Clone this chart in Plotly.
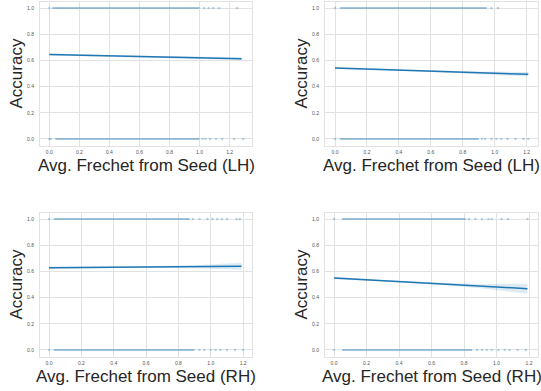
import plotly.graph_objects as go

# ---------------- data ----------------
panel_names = ["LH-1", "LH-2", "RH-1", "RH-2"]
x_titles = ["Avg. Frechet from Seed (LH)", "Avg. Frechet from Seed (LH)",
            "Avg. Frechet from Seed (RH)", "Avg. Frechet from Seed (RH)"]
y_title = "Accuracy"
x_ticks = [0.0, 0.2, 0.4, 0.6, 0.8, 1.0, 1.2]
y_ticks = [0.0, 0.2, 0.4, 0.6, 0.8, 1.0]

# dense strip of observations [start, end] for outcome 1 and outcome 0
dense_one = [[0.02, 1.00], [0.03, 0.95], [0.03, 0.87], [0.05, 0.81]]
dense_zero = [[0.04, 1.00], [0.03, 0.90], [0.03, 0.90], [0.05, 0.85]]

# sparse observations (x values) for outcome 1 and outcome 0
sparse_one = [
    [0.0, 1.03, 1.06, 1.09, 1.13, 1.25],
    [0.0, 0.98, 1.02],
    [0.0, 0.89, 0.93, 0.98, 1.01, 1.04, 1.07, 1.10, 1.16, 1.18],
    [0.0, 0.83, 0.87, 0.91, 0.95, 0.97, 1.03, 1.07, 1.19],
]
sparse_zero = [
    [0.0, 0.01, 1.02, 1.04, 1.07, 1.11, 1.15, 1.23, 1.29],
    [0.0, 0.92, 0.94, 0.98, 1.01, 1.04, 1.08, 1.13, 1.18, 1.21],
    [0.0, 0.93, 0.96, 1.00, 1.03, 1.06, 1.10, 1.15, 1.20],
    [0.0, 0.88, 0.91, 0.94, 0.97, 1.01, 1.05, 1.08, 1.13, 1.18],
]

# fitted curve and confidence band
fit_x = [
    [0.0, 0.3, 0.6, 0.9, 1.28],
    [0.0, 0.3, 0.6, 0.9, 1.21],
    [0.0, 0.3, 0.6, 0.9, 1.19],
    [0.0, 0.3, 0.6, 0.9, 1.19],
]
fit_y = [
    [0.645, 0.638, 0.630, 0.623, 0.613],
    [0.542, 0.530, 0.518, 0.506, 0.494],
    [0.628, 0.631, 0.633, 0.636, 0.639],
    [0.550, 0.529, 0.509, 0.488, 0.468],
]
fit_lo = [
    [0.638, 0.634, 0.625, 0.615, 0.604],
    [0.534, 0.525, 0.512, 0.496, 0.477],
    [0.620, 0.626, 0.627, 0.624, 0.612],
    [0.540, 0.523, 0.501, 0.472, 0.430],
]
fit_hi = [
    [0.652, 0.642, 0.635, 0.631, 0.622],
    [0.550, 0.535, 0.524, 0.516, 0.511],
    [0.636, 0.636, 0.639, 0.648, 0.666],
    [0.560, 0.535, 0.517, 0.504, 0.506],
]

x_ranges = [[-0.062, 1.349], [-0.0626, 1.271], [-0.0557, 1.255], [-0.0554, 1.255]]
y_range = [-0.05, 1.05]

# ---------------- layout geometry ----------------
W, H = 541, 391
x_domains = [[40 / W, 252 / W], [325 / W, 538 / W], [40 / W, 252 / W], [325 / W, 538 / W]]
y_domains = [[1 - 145.5 / H, 1 - 1.5 / H], [1 - 145.5 / H, 1 - 1.5 / H],
             [1 - 356.5 / H, 1 - 212.5 / H], [1 - 356.5 / H, 1 - 212.5 / H]]

C0 = "#1f77b4"
GRID = "#e2e2e2"
TXT = "#262626"
FONT = "Liberation Sans, Arial, sans-serif"

fig = go.Figure()
layout = dict(
    width=W, height=H, margin=dict(l=0, r=0, t=0, b=0),
    paper_bgcolor="white", plot_bgcolor="white", showlegend=False,
    font=dict(family=FONT, color=TXT),
)
annotations = []

for i in range(4):
    n = "" if i == 0 else str(i + 1)
    xa, ya = "x" + n, "y" + n
    # dense strips
    for (rng, yv) in ((dense_one[i], 1), (dense_zero[i], 0)):
        fig.add_trace(go.Scatter(x=rng, y=[yv, yv], mode="lines",
                                 line=dict(color="rgba(31,119,180,0.42)", width=2),
                                 xaxis=xa, yaxis=ya, hoverinfo="skip"))
    # sparse points
    fig.add_trace(go.Scatter(x=sparse_one[i], y=[1] * len(sparse_one[i]), mode="markers",
                             marker=dict(color="rgba(31,119,180,0.3)", size=2.5, line=dict(width=0)),
                             xaxis=xa, yaxis=ya))
    fig.add_trace(go.Scatter(x=sparse_zero[i], y=[0] * len(sparse_zero[i]), mode="markers",
                             marker=dict(color="rgba(31,119,180,0.3)", size=2.5, line=dict(width=0)),
                             xaxis=xa, yaxis=ya))
    # CI band
    fig.add_trace(go.Scatter(x=fit_x[i] + fit_x[i][::-1], y=fit_hi[i] + fit_lo[i][::-1],
                             fill="toself", fillcolor="rgba(31,119,180,0.15)",
                             line=dict(width=0), mode="lines", xaxis=xa, yaxis=ya))
    # fit line
    fig.add_trace(go.Scatter(x=fit_x[i], y=fit_y[i], mode="lines",
                             line=dict(color=C0, width=1.5), xaxis=xa, yaxis=ya))

    common = dict(showgrid=True, gridcolor=GRID, gridwidth=1, zeroline=False,
                  showline=True, linecolor=GRID, linewidth=1, mirror=True,
                  ticks="", tickfont=dict(size=5, color="#555555", family=FONT))
    layout["xaxis" + n] = dict(domain=x_domains[i], range=x_ranges[i], anchor=ya,
                               tickvals=x_ticks, tickformat=".1f",
                               ticklabelstandoff=1, **common)
    layout["yaxis" + n] = dict(domain=y_domains[i], range=y_range, anchor=xa,
                               tickvals=y_ticks, tickformat=".1f",
                               ticklabelstandoff=4, **common)

    xd, yd = x_domains[i], y_domains[i]
    annotations.append(dict(text=x_titles[i], xref="paper", yref="paper",
                            x=(xd[0] + xd[1]) / 2, y=yd[0] - 20 / H,
                            xanchor="center", yanchor="middle", showarrow=False,
                            font=dict(size=17, color=TXT, family=FONT)))
    annotations.append(dict(text=y_title, xref="paper", yref="paper",
                            x=xd[0] - 24 / W, y=(yd[0] + yd[1]) / 2, textangle=-90,
                            xanchor="center", yanchor="middle", showarrow=False,
                            font=dict(size=17, color=TXT, family=FONT)))

layout["annotations"] = annotations
fig.update_layout(**layout)
fig.write_html("out.html", config={"displayModeBar": False},
               post_script="document.body.style.margin='0';document.body.style.overflow='hidden';")
